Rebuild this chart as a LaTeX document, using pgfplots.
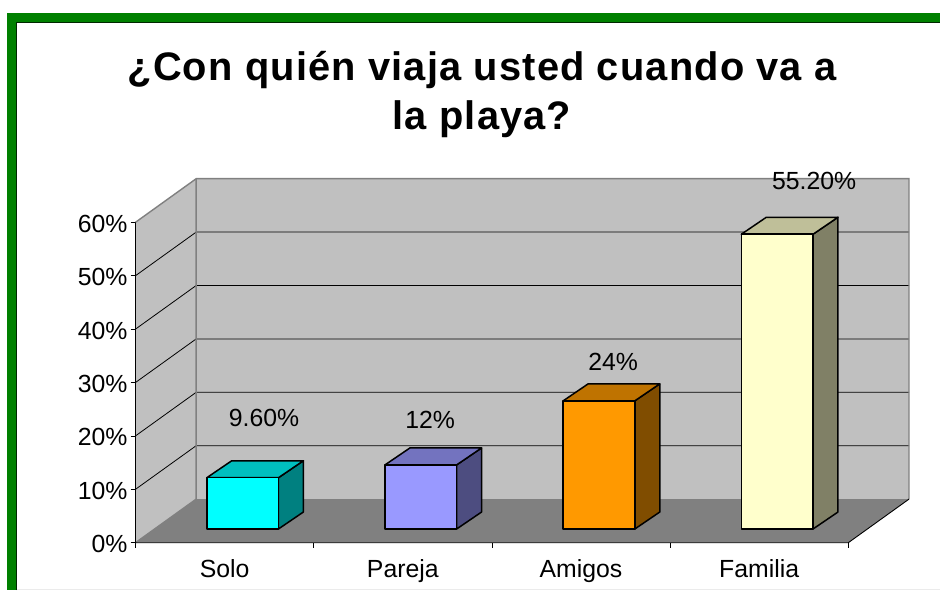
\documentclass[border=0pt]{standalone}
\usepackage{fontspec}
\setmainfont{Liberation Sans}
\newfontfamily\titlefont[LetterSpace=3]{Liberation Sans}
\usepackage{pgfplots}
\pgfplotsset{compat=1.18}
\definecolor{frame}{HTML}{008000}
\definecolor{wall}{HTML}{C0C0C0}
\definecolor{floorc}{HTML}{808080}
\definecolor{soloF}{HTML}{00FFFF}\definecolor{soloT}{HTML}{00BFBF}\definecolor{soloS}{HTML}{008080}
\definecolor{parF}{HTML}{9999FF}\definecolor{parT}{HTML}{7373BF}\definecolor{parS}{HTML}{4D4D80}
\definecolor{amiF}{HTML}{FF9900}\definecolor{amiT}{HTML}{BF7300}\definecolor{amiS}{HTML}{804D00}
\definecolor{famF}{HTML}{FFFFCC}\definecolor{famT}{HTML}{BFBF99}\definecolor{famS}{HTML}{808066}
\tikzset{barface/.style={draw=black,line width=1.5pt,line join=round,yshift=13.7pt}}
\begin{document}
\begin{tikzpicture}[x=1pt,y=1pt]
\path[use as bounding box] (0,0) rectangle (940,590);
\fill[white] (0,0) rectangle (940,590);
\fill[black!8] (17,0) rectangle (940,1.5);
\fill[frame] (7,0) rectangle (16,577);
\fill[frame] (7,568) rectangle (940,577);
\draw[black!70!frame,line width=1pt] (16.5,0) -- (16.5,567.5) -- (940,567.5);
\node[font=\titlefont\fontsize{39.8}{49}\selectfont\bfseries,align=center,anchor=center] at (482,495.5) {¿Con quién viaja usted cuando va a\\la playa?};
\begin{axis}[
  at={(135.5pt,47.3pt)},anchor=south west,
  scale only axis,width=712.8pt,height=320.4pt,
  xmin=0,xmax=4,ymin=0,ymax=60,clip=false,
  axis line style={draw=none},
  tick style={black,line width=0.8pt},
  tick align=outside,xtick pos=bottom,ytick pos=left,
  major tick length=5pt,
  ytick={0,10,20,30,40,50,60},
  yticklabels={0\%,10\%,20\%,30\%,40\%,50\%,60\%},
  xtick={0,1,2,3,4},
  x tick label as interval,
  xticklabels={Solo,Pareja,Amigos,Familia},
  x tick label style={yshift=-8pt},
  y tick label style={yshift=-1.5pt,xshift=0.5pt},
  tick label style={font=\fontsize{24.8}{28}\selectfont},
  no marks,
]
% walls and floor
\addplot[fill=wall,draw=none] coordinates {(0.3406,8.165)(4.3406,8.165)(4.3406,68.165)(0.3406,68.165)} -- cycle;
\addplot[fill=wall,draw=none] coordinates {(0,0)(0.3406,8.165)(0.3406,68.165)(0,60)} -- cycle;
\addplot[fill=floorc,draw=none] coordinates {(0,0)(4,0)(4.3406,8.165)(0.3406,8.165)} -- cycle;
% gridlines, back wall and side wall
\addplot[black,line width=0.8pt] coordinates {(0,10)(0.3406,18.165)(4.3406,18.165)};
\addplot[black,line width=0.8pt] coordinates {(0,20)(0.3406,28.165)(4.3406,28.165)};
\addplot[black,line width=0.8pt] coordinates {(0,30)(0.3406,38.165)(4.3406,38.165)};
\addplot[black,line width=0.8pt] coordinates {(0,40)(0.3406,48.165)(4.3406,48.165)};
\addplot[black,line width=0.8pt] coordinates {(0,50)(0.3406,58.165)(4.3406,58.165)};
% wall borders
\addplot[floorc,line width=1.4pt] coordinates {(0,60)(0.3406,68.165)(4.3406,68.165)(4.3406,8.165)};
\addplot[floorc,line width=1.4pt] coordinates {(0,0)(0.3406,8.165)(0.3406,68.165)};
\addplot[floorc,line width=1.2pt] coordinates {(0.3406,8.165)(4.3406,8.165)};
% axis lines
\addplot[black,line width=0.9pt] coordinates {(0,60)(0,0)(4,0)(4.3406,8.165)};
% bars
\addplot[barface,fill=soloS] coordinates {(0.802,0)(0.942,3.18)(0.942,12.78)(0.802,9.6)} -- cycle;
\addplot[barface,fill=soloT] coordinates {(0.40,9.6)(0.54,12.78)(0.942,12.78)(0.802,9.6)} -- cycle;
\addplot[barface,fill=soloF] coordinates {(0.40,0)(0.802,0)(0.802,9.6)(0.40,9.6)} -- cycle;
\addplot[barface,fill=parS] coordinates {(1.802,0)(1.942,3.18)(1.942,15.18)(1.802,12)} -- cycle;
\addplot[barface,fill=parT] coordinates {(1.40,12)(1.54,15.18)(1.942,15.18)(1.802,12)} -- cycle;
\addplot[barface,fill=parF] coordinates {(1.40,0)(1.802,0)(1.802,12)(1.40,12)} -- cycle;
\addplot[barface,fill=amiS] coordinates {(2.802,0)(2.942,3.18)(2.942,27.18)(2.802,24)} -- cycle;
\addplot[barface,fill=amiT] coordinates {(2.40,24)(2.54,27.18)(2.942,27.18)(2.802,24)} -- cycle;
\addplot[barface,fill=amiF] coordinates {(2.40,0)(2.802,0)(2.802,24)(2.40,24)} -- cycle;
\addplot[barface,fill=famS] coordinates {(3.802,0)(3.942,3.18)(3.942,58.38)(3.802,55.2)} -- cycle;
\addplot[barface,fill=famT] coordinates {(3.40,55.2)(3.54,58.38)(3.942,58.38)(3.802,55.2)} -- cycle;
\addplot[barface,fill=famF] coordinates {(3.40,0)(3.802,0)(3.802,55.2)(3.40,55.2)} -- cycle;
% data labels
\node[font=\fontsize{24.8}{28}\selectfont] at (axis cs:0.721,23.35) {9.60\%};
\node[font=\fontsize{24.8}{28}\selectfont] at (axis cs:1.653,22.97) {12\%};
\node[font=\fontsize{24.8}{28}\selectfont] at (axis cs:2.680,33.9) {24\%};
\node[font=\fontsize{24.8}{28}\selectfont] at (axis cs:3.808,67.7) {55.20\%};
\end{axis}
\end{tikzpicture}
\end{document}
